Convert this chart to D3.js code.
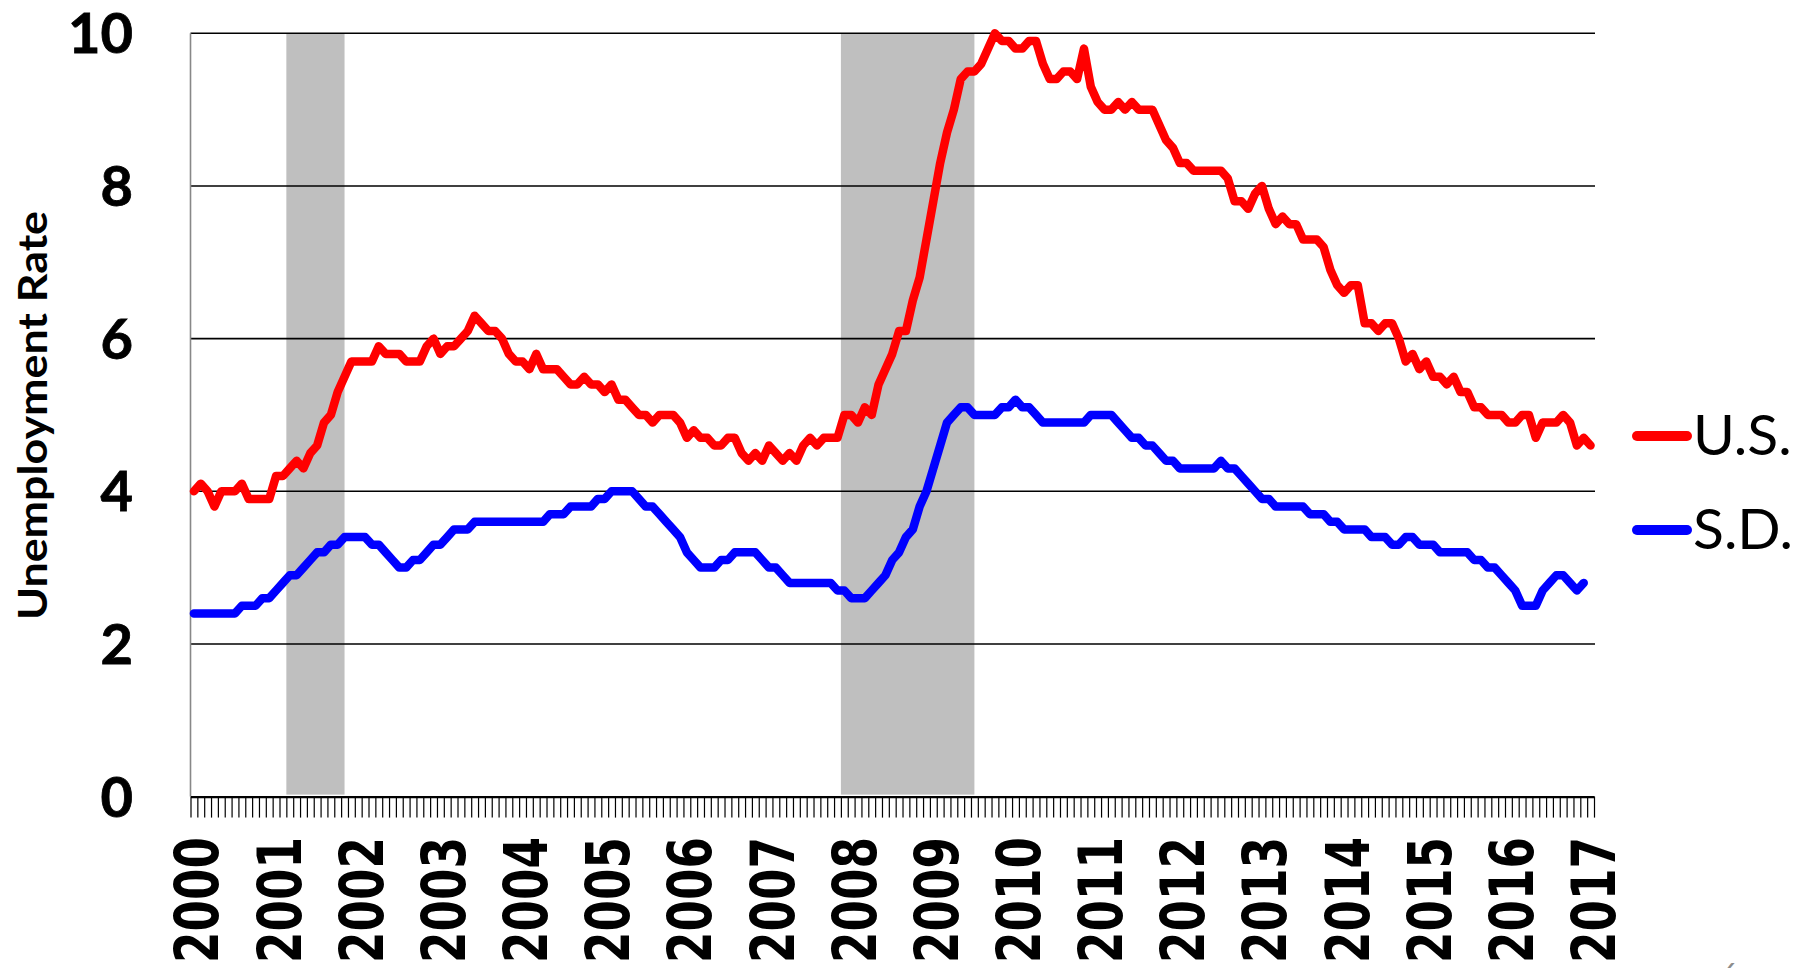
<!DOCTYPE html>
<html>
<head>
<meta charset="utf-8">
<script src="https://cdn.jsdelivr.net/npm/d3@7"></script>
<style>
  body { margin: 0; background: #fff; }
  svg { display: block; }
</style>
</head>
<body>
<svg id="chart"></svg>
<script>
const width = 1810;
const height = 968;

// monthly unemployment rate, Jan 2000 ...
const usRate = [
  4.0, 4.1, 4.0, 3.8, 4.0, 4.0, 4.0, 4.1, 3.9, 3.9, 3.9, 3.9, // 2000
  4.2, 4.2, 4.3, 4.4, 4.3, 4.5, 4.6, 4.9, 5.0, 5.3, 5.5, 5.7, // 2001
  5.7, 5.7, 5.7, 5.9, 5.8, 5.8, 5.8, 5.7, 5.7, 5.7, 5.9, 6.0, // 2002
  5.8, 5.9, 5.9, 6.0, 6.1, 6.3, 6.2, 6.1, 6.1, 6.0, 5.8, 5.7, // 2003
  5.7, 5.6, 5.8, 5.6, 5.6, 5.6, 5.5, 5.4, 5.4, 5.5, 5.4, 5.4, // 2004
  5.3, 5.4, 5.2, 5.2, 5.1, 5.0, 5.0, 4.9, 5.0, 5.0, 5.0, 4.9, // 2005
  4.7, 4.8, 4.7, 4.7, 4.6, 4.6, 4.7, 4.7, 4.5, 4.4, 4.5, 4.4, // 2006
  4.6, 4.5, 4.4, 4.5, 4.4, 4.6, 4.7, 4.6, 4.7, 4.7, 4.7, 5.0, // 2007
  5.0, 4.9, 5.1, 5.0, 5.4, 5.6, 5.8, 6.1, 6.1, 6.5, 6.8, 7.3, // 2008
  7.8, 8.3, 8.7, 9.0, 9.4, 9.5, 9.5, 9.6, 9.8, 10.0, 9.9, 9.9, // 2009
  9.8, 9.8, 9.9, 9.9, 9.6, 9.4, 9.4, 9.5, 9.5, 9.4, 9.8, 9.3, // 2010
  9.1, 9.0, 9.0, 9.1, 9.0, 9.1, 9.0, 9.0, 9.0, 8.8, 8.6, 8.5, // 2011
  8.3, 8.3, 8.2, 8.2, 8.2, 8.2, 8.2, 8.1, 7.8, 7.8, 7.7, 7.9, // 2012
  8.0, 7.7, 7.5, 7.6, 7.5, 7.5, 7.3, 7.3, 7.3, 7.2, 6.9, 6.7, // 2013
  6.6, 6.7, 6.7, 6.2, 6.2, 6.1, 6.2, 6.2, 6.0, 5.7, 5.8, 5.6, // 2014
  5.7, 5.5, 5.5, 5.4, 5.5, 5.3, 5.3, 5.1, 5.1, 5.0, 5.0, 5.0, // 2015
  4.9, 4.9, 5.0, 5.0, 4.7, 4.9, 4.9, 4.9, 5.0, 4.9, 4.6, 4.7, // 2016
  4.6                                                         // 2017
];

const sdRate = [
  2.4, 2.4, 2.4, 2.4, 2.4, 2.4, 2.4, 2.5, 2.5, 2.5, 2.6, 2.6, // 2000
  2.7, 2.8, 2.9, 2.9, 3.0, 3.1, 3.2, 3.2, 3.3, 3.3, 3.4, 3.4, // 2001
  3.4, 3.4, 3.3, 3.3, 3.2, 3.1, 3.0, 3.0, 3.1, 3.1, 3.2, 3.3, // 2002
  3.3, 3.4, 3.5, 3.5, 3.5, 3.6, 3.6, 3.6, 3.6, 3.6, 3.6, 3.6, // 2003
  3.6, 3.6, 3.6, 3.6, 3.7, 3.7, 3.7, 3.8, 3.8, 3.8, 3.8, 3.9, // 2004
  3.9, 4.0, 4.0, 4.0, 4.0, 3.9, 3.8, 3.8, 3.7, 3.6, 3.5, 3.4, // 2005
  3.2, 3.1, 3.0, 3.0, 3.0, 3.1, 3.1, 3.2, 3.2, 3.2, 3.2, 3.1, // 2006
  3.0, 3.0, 2.9, 2.8, 2.8, 2.8, 2.8, 2.8, 2.8, 2.8, 2.7, 2.7, // 2007
  2.6, 2.6, 2.6, 2.7, 2.8, 2.9, 3.1, 3.2, 3.4, 3.5, 3.8, 4.0, // 2008
  4.3, 4.6, 4.9, 5.0, 5.1, 5.1, 5.0, 5.0, 5.0, 5.0, 5.1, 5.1, // 2009
  5.2, 5.1, 5.1, 5.0, 4.9, 4.9, 4.9, 4.9, 4.9, 4.9, 4.9, 5.0, // 2010
  5.0, 5.0, 5.0, 4.9, 4.8, 4.7, 4.7, 4.6, 4.6, 4.5, 4.4, 4.4, // 2011
  4.3, 4.3, 4.3, 4.3, 4.3, 4.3, 4.4, 4.3, 4.3, 4.2, 4.1, 4.0, // 2012
  3.9, 3.9, 3.8, 3.8, 3.8, 3.8, 3.8, 3.7, 3.7, 3.7, 3.6, 3.6, // 2013
  3.5, 3.5, 3.5, 3.5, 3.4, 3.4, 3.4, 3.3, 3.3, 3.4, 3.4, 3.3, // 2014
  3.3, 3.3, 3.2, 3.2, 3.2, 3.2, 3.2, 3.1, 3.1, 3.0, 3.0, 2.9, // 2015
  2.8, 2.7, 2.5, 2.5, 2.5, 2.7, 2.8, 2.9, 2.9, 2.8, 2.7, 2.8  // 2016
];

const years = d3.range(2000, 2018);
const yTicks = [0, 2, 4, 6, 8, 10];
// recessions as month indices (start month, end month)
const recessions = [[14, 22], [95, 114]];
const seriesNames = ['U.S.', 'S.D.'];
const seriesColors = ['#ff0000', '#0000ff'];

const nMonths = usRate.length;
const plot = { left: 190.5, right: 1594, top: 33.3, bottom: 796.6 };

const svg = d3.select('#chart')
    .attr('width', width)
    .attr('height', height);

const x = d3.scaleBand()
    .domain(d3.range(nMonths))
    .range([plot.left, plot.right])
    .padding(0);
const xc = i => x(i) + x.bandwidth() / 2;

const y = d3.scaleLinear()
    .domain([0, 10])
    .range([plot.bottom, plot.top]);

// recession shading
svg.append('g')
  .selectAll('rect')
  .data(recessions)
  .enter().append('rect')
    .attr('x', d => x(d[0]))
    .attr('y', y(10))
    .attr('width', d => xc(d[1]) - x(d[0]))
    .attr('height', y(0) - y(10) - 2)
    .attr('fill', '#bfbfbf');

// gridlines
svg.append('g')
  .selectAll('line')
  .data(yTicks.filter(d => d > 0))
  .enter().append('line')
    .attr('x1', plot.left)
    .attr('x2', plot.right + 1)
    .attr('y1', d => y(d))
    .attr('y2', d => y(d))
    .attr('stroke', '#000')
    .attr('stroke-width', 1.6);

// left axis line
svg.append('line')
    .attr('x1', plot.left).attr('x2', plot.left)
    .attr('y1', y(10)).attr('y2', y(0))
    .attr('stroke', '#888')
    .attr('stroke-width', 1.6);

// y tick labels
svg.append('g')
  .selectAll('text')
  .data(yTicks)
  .enter().append('text')
    .attr('x', 133)
    .attr('y', d => y(d) + 20)
    .attr('text-anchor', 'end')
    .attr('font-family', 'Lato, sans-serif')
    .attr('font-weight', 'bold')
    .attr('font-size', 56)
    .attr('stroke', '#000')
    .attr('stroke-width', 0.8)
    .text(d => d);

// month ticks on category edges
const xEdge = d3.scaleLinear().domain([0, nMonths]).range([plot.left, plot.right]);
const xAxis = svg.append('g')
    .attr('transform', `translate(0,${plot.bottom})`)
    .call(d3.axisBottom(xEdge)
      .tickValues(d3.range(nMonths + 1))
      .tickSize(21)
      .tickSizeOuter(0)
      .tickFormat(''));
xAxis.select('.domain').attr('stroke', '#000').attr('stroke-width', 2.2);
xAxis.selectAll('.tick line').attr('stroke', '#000').attr('stroke-width', 1.2);

// year labels
svg.append('g')
  .selectAll('text')
  .data(years)
  .enter().append('text')
    .attr('transform', d => `translate(${xc((d - 2000) * 12) + 24.5},837) rotate(-90)`)
    .attr('text-anchor', 'end')
    .attr('font-family', 'DejaVu Sans, sans-serif')
    .attr('font-weight', 'bold')
    .attr('font-size', 60)
    .attr('textLength', 126)
    .attr('lengthAdjust', 'spacingAndGlyphs')
    .text(d => d);

// y axis title
svg.append('text')
    .attr('transform', `translate(47,${(211 + 620) / 2}) rotate(-90)`)
    .attr('text-anchor', 'middle')
    .attr('font-family', 'Lato, sans-serif')
    .attr('font-weight', 'bold')
    .attr('font-size', 40)
    .attr('textLength', 409)
    .attr('lengthAdjust', 'spacingAndGlyphs')
    .text('Unemployment Rate');

// lines
const line = d3.line()
    .x((d, i) => xc(i))
    .y(d => y(d));

svg.append('g')
  .selectAll('path')
  .data([usRate, sdRate])
  .enter().append('path')
    .attr('d', line)
    .attr('fill', 'none')
    .attr('stroke', (d, i) => seriesColors[i])
    .attr('stroke-width', 8.5)
    .attr('stroke-linejoin', 'round')
    .attr('stroke-linecap', 'round');

// legend
const legend = svg.append('g')
  .selectAll('g')
  .data(seriesNames)
  .enter().append('g')
    .attr('transform', (d, i) => `translate(0,${[436, 530][i]})`);

legend.append('line')
    .attr('x1', 1637).attr('x2', 1687)
    .attr('y1', 0).attr('y2', 0)
    .attr('stroke', (d, i) => seriesColors[i])
    .attr('stroke-width', 10)
    .attr('stroke-linecap', 'round');

legend.append('text')
    .attr('x', 1693)
    .attr('y', 19)
    .attr('font-family', 'Lato, sans-serif')
    .attr('font-size', 57)
    .text(d => d);

// slide number, cut off at the bottom edge
svg.append('text')
    .attr('x', 1721)
    .attr('y', 985)
    .attr('font-family', 'Lato, sans-serif')
    .attr('font-size', 30)
    .attr('fill', '#8c8c8c')
    .text('6');
</script>
</body>
</html>
